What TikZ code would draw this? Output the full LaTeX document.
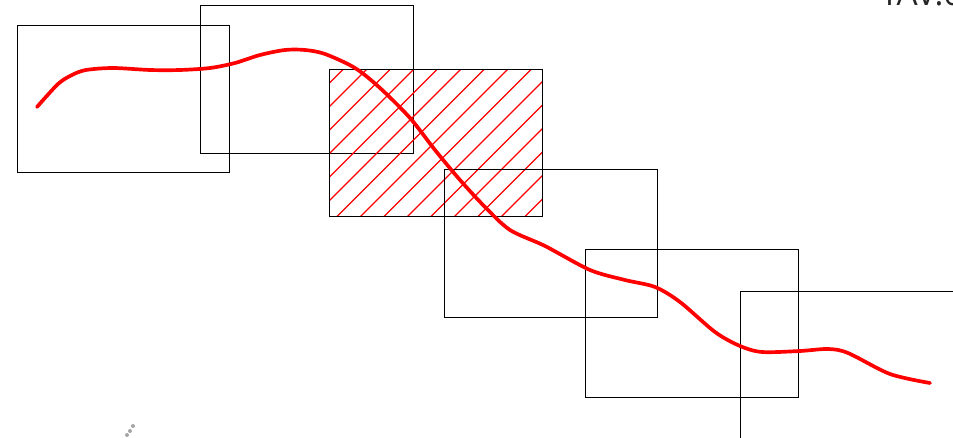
\documentclass[tikz,border=0pt]{standalone}
\usepackage{fontspec}
\setsansfont{Open Sans}
\usetikzlibrary{calc}
\begin{document}
\begin{tikzpicture}[
  x=0.02cm,y=-0.02cm,
  win/.style={draw=black,line width=0.55pt,inner sep=0pt,outer sep=0pt,
              minimum width=4.26cm,minimum height=2.96cm},
  hatchwin/.style={win,path picture={
      \foreach \k in {-8,...,12}
        \draw[red,line width=0.7pt]
          ($(path picture bounding box.south west)+(\k*0.47cm+0.15cm,0)$)
          -- ++(4cm,4cm);}},
  trace/.style={red,line width=2.1pt,line cap=round,line join=round},
  speck/.style={fill=black!35,draw=none}
]
  \useasboundingbox (0,0) rectangle (953,438);
  \clip (0,0) rectangle (953,438);

  \node[win] (w1) at (123.5,99) {};
  \node[win] (w2) at (307,79.5) {};
  \node[hatchwin] (w3) at (435.5,143) {};
  \node[win] (w4) at (550.5,243.5) {};
  \node[win] (w5) at (692,323) {};
  \node[win,minimum width=4.4cm,minimum height=3.0cm] (w6) at (850,366) {};

  \draw[trace] plot[smooth,tension=0.5] coordinates {
    (37,107) (58,84) (72,75) (86,70) (113,68) (150,70) (180,70) (210,68)
    (235,63) (260,55) (285,50) (305,50) (325,54) (355,68) (380,88)
    (410,118) (435,150) (460,180) (485,207) (510,230) (545,246)
    (590,270) (625,280) (655,287) (680,302) (715,332) (740,346)
    (762,352) (800,351) (828,349) (848,353) (890,374) (930,383)};

  \foreach \p in {(127,435),(130,431),(133,426)}
    \fill[speck] \p circle (2);

  \node[anchor=base west,inner sep=0pt,font=\sffamily\fontsize{19}{19}\selectfont,
        text=black!85] (tag) at (880,6) {TAV.0};
\end{tikzpicture}
\end{document}
